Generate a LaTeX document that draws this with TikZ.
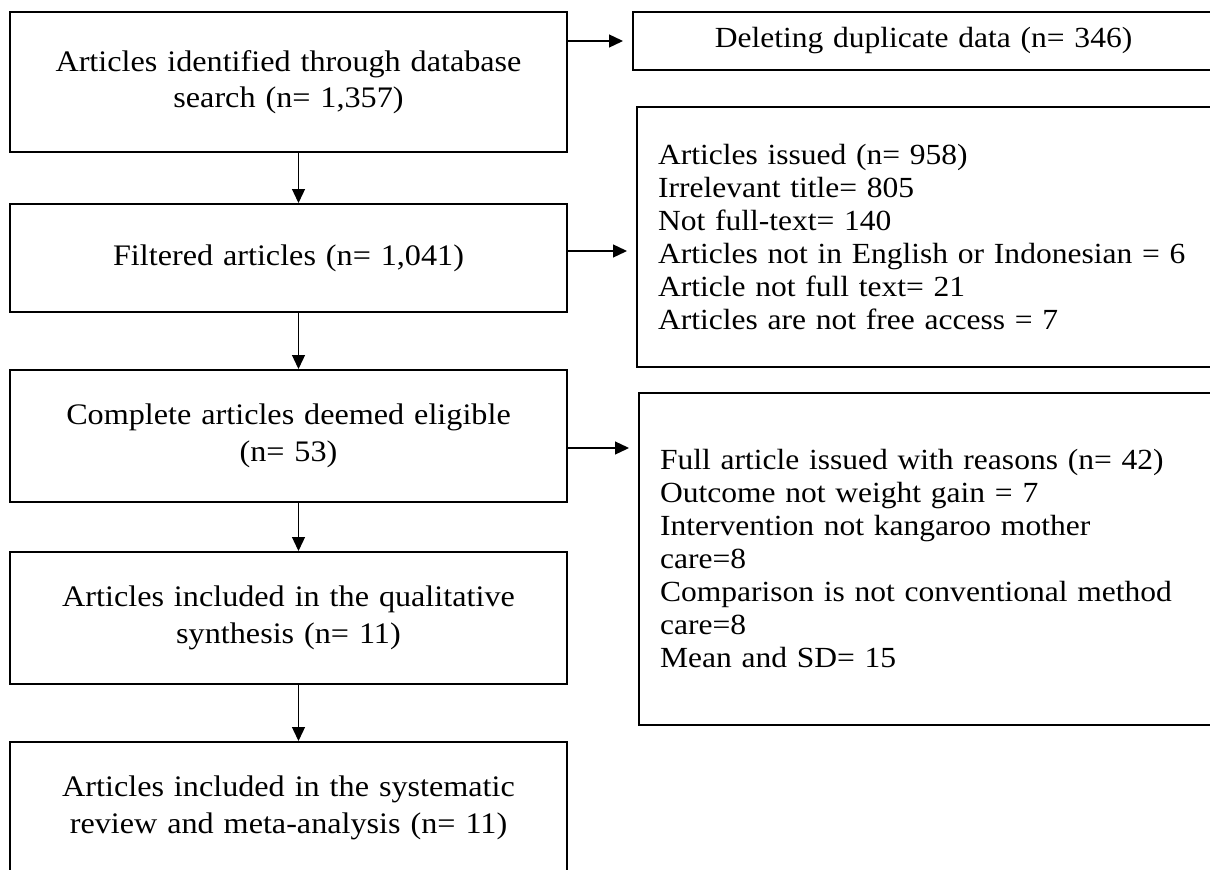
\documentclass[tikz,border=0pt]{standalone}
\usepackage{fontspec}
\setmainfont[FakeStretch=1.08]{Liberation Serif}
\usetikzlibrary{arrows.meta}

\begin{document}
\begin{tikzpicture}[x=1pt,y=-1pt,
  main node/.style={draw,line width=2pt,inner xsep=8pt,inner ysep=0pt,text width=541pt,align=center,font=\fontsize{29.8}{36.5}\selectfont},
  side node/.style={draw,line width=2pt,inner xsep=21pt,inner ysep=0pt,align=left,font=\fontsize{29.2}{33}\selectfont},
  every edge/.style={draw,line width=1.3pt,-{Triangle[length=14pt,width=13pt]}}]
  \useasboundingbox (0,0) rectangle (1210,870);
  \clip (0,0) rectangle (1210,870);

  \node[main node,minimum height=140pt] (ident) at (288.5,82) {Articles identified through database\\search (n= 1,357)};
  \node[main node,minimum height=108pt] (filt) at (288.5,258) {Filtered articles (n= 1,041)};
  \node[main node,minimum height=132pt] (elig) at (288.5,436) {Complete articles deemed eligible\\(n= 53)};
  \node[main node,minimum height=132pt] (qual) at (288.5,618) {Articles included in the qualitative\\synthesis (n= 11)};
  \node[main node,minimum height=132pt] (meta) at (288.5,808) {Articles included in the systematic\\review and meta-analysis (n= 11)};

  \node[side node,align=center,text width=539pt,minimum height=58pt] (dup) at (923.5,41) {Deleting duplicate data (n= 346)};
  \node[side node,text width=540pt,minimum height=260pt] (excl) at (928,237) {Articles issued (n= 958)\\Irrelevant title= 805\\Not full-text= 140\\Articles not in English or Indonesian = 6\\Article not full text= 21\\Articles are not free access = 7};
  \node[side node,text width=540pt,minimum height=332pt] (reas) at (930,559) {Full article issued with reasons (n= 42)\\Outcome not weight gain = 7\\Intervention not kangaroo mother\\care=8\\Comparison is not conventional method\\care=8\\Mean and SD= 15};

  \path
   ([xshift=10pt]ident.south) edge ([xshift=10pt]filt.north)
   ([xshift=10pt]filt.south) edge ([xshift=10pt]elig.north)
   ([xshift=10pt]elig.south) edge ([xshift=10pt]qual.north)
   ([xshift=10pt]qual.south) edge ([xshift=10pt]meta.north);

  \path[shorten >=9pt]
   (ident.east |- dup.west) edge (dup.west)
   ([yshift=7pt]filt.east) edge ([yshift=7pt]filt.east -| excl.west)
   ([yshift=-12pt]elig.east) edge ([yshift=-12pt]elig.east -| reas.west);
\end{tikzpicture}
\end{document}
